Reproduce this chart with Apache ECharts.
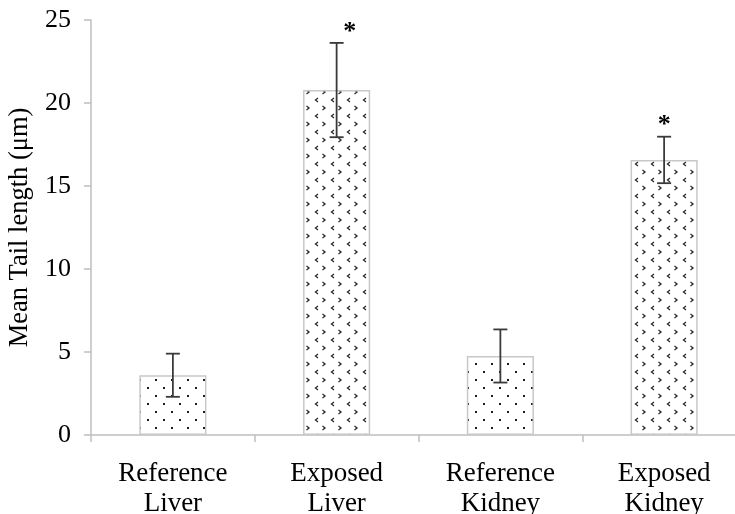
<!DOCTYPE html>
<html>
<head>
<meta charset="utf-8">
<script src="https://cdn.jsdelivr.net/npm/echarts@6/dist/echarts.min.js"></script>
<style>
html,body{margin:0;padding:0;background:#fff;overflow:hidden;width:735px;height:514px;}
#chart{width:746px;height:514px;}
</style>
</head>
<body>
<div id="chart"></div>
<script>
const categories = ['Reference\nLiver', 'Exposed\nLiver', 'Reference\nKidney', 'Exposed\nKidney'];
const meanValues = [3.6, 20.78, 4.76, 16.57];
const errValues = [1.3, 2.84, 1.6, 1.4];
const significance = ['', '*', '', '*'];
const patternType = ['dots', 'chevrons', 'dots', 'chevrons'];
const yTicks = [0, 5, 10, 15, 20, 25];

function makeDots() {
  const c = document.createElement('canvas');
  c.width = 16; c.height = 16;
  const g = c.getContext('2d');
  g.fillStyle = '#fff'; g.fillRect(0, 0, 16, 16);
  g.fillStyle = '#1a1a1a';
  g.fillRect(3, 3, 2, 2);
  g.fillRect(11, 11, 2, 2);
  return c;
}
function makeChevrons() {
  const c = document.createElement('canvas');
  c.width = 16; c.height = 16;
  const g = c.getContext('2d');
  g.fillStyle = '#fff'; g.fillRect(0, 0, 16, 16);
  g.strokeStyle = '#2a2a2a'; g.lineWidth = 1.3;
  g.beginPath();
  g.moveTo(14, 2); g.lineTo(11.5, 4); g.lineTo(14, 6);
  g.moveTo(2.5, 10); g.lineTo(5, 12); g.lineTo(2.5, 14);
  g.stroke();
  return c;
}
const patterns = { dots: makeDots(), chevrons: makeChevrons() };

const chart = echarts.init(document.getElementById('chart'));
const FONT = 'Liberation Serif';
const starShift = [0, 13, 0, 0];

chart.setOption({
  animation: false,
  backgroundColor: '#fff',
  grid: { left: 91, right: 0, top: 20, bottom: 79, containLabel: false, outerBoundsMode: 'none' },
  xAxis: {
    type: 'category',
    data: categories,
    axisLine: { lineStyle: { color: '#bfbfbf', width: 1.5 } },
    axisTick: { show: true, length: 7, lineStyle: { color: '#bfbfbf', width: 1.5 } },
    axisLabel: { color: '#000', fontFamily: FONT, fontSize: 27, lineHeight: 30, margin: 24, interval: 0 }
  },
  yAxis: {
    type: 'value',
    min: 0, max: 25, interval: 5,
    name: 'Mean Tail length (μm)',
    nameLocation: 'middle',
    nameGap: 57,
    nameRotate: 90,
    nameTextStyle: { color: '#000', fontFamily: FONT, fontSize: 26.5 },
    axisLine: { show: true, lineStyle: { color: '#bfbfbf', width: 1.5 } },
    axisTick: { show: true, length: 7, lineStyle: { color: '#bfbfbf', width: 1.5 } },
    splitLine: { show: false },
    axisLabel: { color: '#000', fontFamily: FONT, fontSize: 26, margin: 20,
      formatter: v => yTicks.includes(v) ? String(v) : '' }
  },
  series: [
    {
      type: 'bar',
      barWidth: '41%',
      data: meanValues.map((v, i) => ({
        value: v,
        itemStyle: {
          color: { image: patterns[patternType[i]], repeat: 'repeat' },
          borderColor: '#c8c8c8', borderWidth: 1.5
        }
      }))
    },
    {
      type: 'custom',
      data: meanValues.map((v, i) => [i, v, errValues[i]]),
      z: 10,
      renderItem: function (params, api) {
        const i = api.value(0), v = api.value(1), e = api.value(2);
        const top = api.coord([i, v + e]);
        const bot = api.coord([i, v - e]);
        const half = 7;
        const st = { stroke: '#3a3a3a', lineWidth: 1.8 };
        const children = [
          { type: 'line', shape: { x1: top[0], y1: top[1], x2: bot[0], y2: bot[1] }, style: st },
          { type: 'line', shape: { x1: top[0] - half, y1: top[1], x2: top[0] + half, y2: top[1] }, style: st },
          { type: 'line', shape: { x1: bot[0] - half, y1: bot[1], x2: bot[0] + half, y2: bot[1] }, style: st }
        ];
        if (significance[i]) {
          children.push({
            type: 'text',
            style: {
              text: significance[i], x: top[0] + starShift[i], y: top[1] + 2,
              fill: '#000', font: 'bold 26px ' + FONT,
              align: 'center', verticalAlign: 'bottom'
            }
          });
        }
        return { type: 'group', children };
      }
    }
  ]
});
</script>
</body>
</html>
